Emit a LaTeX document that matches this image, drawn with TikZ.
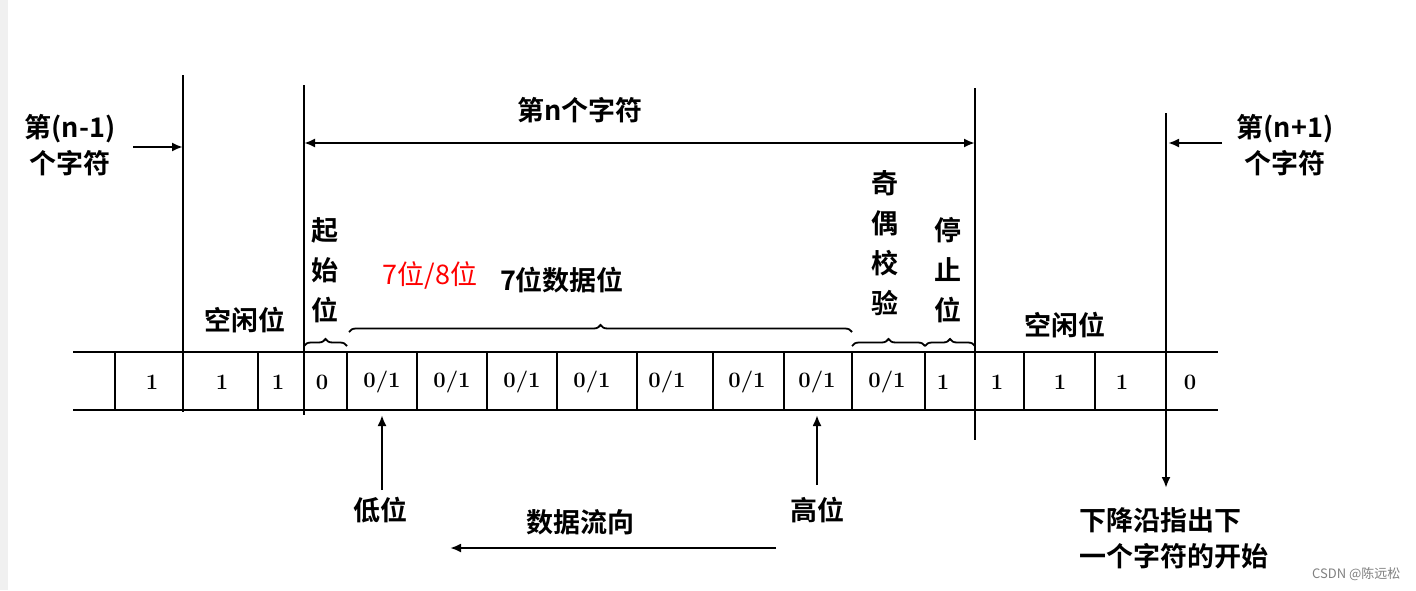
\documentclass[tikz,border=0pt]{standalone}
\usepackage{fontspec}
\newfontfamily\cjk{Noto Sans CJK SC}[BoldFont={Noto Sans CJK SC Bold}]
\usetikzlibrary{arrows.meta,decorations.pathreplacing}
\begin{document}
\begin{tikzpicture}[x=1pt,y=-1pt,
  lab/.style={font=\cjk\bfseries\fontsize{27}{36}\selectfont},
  vlab/.style={font=\cjk\bfseries\fontsize{27}{40}\selectfont,align=center,inner sep=0},
  bit/.style={font=\fontsize{22}{24}\selectfont\bfseries},
  ln/.style={line width=2.2pt},
  arr/.style={line width=2.2pt,-{Latex[length=11pt,width=9pt]}},
  br/.style={line width=1.8pt,decorate,decoration={brace,amplitude=7pt}}]
\useasboundingbox (0,0) rectangle (1416,590);
\fill[gray!12] (0,0) rectangle (8,590);
% band
\draw[ln] (73,352) -- (1218,352);
\draw[ln] (73,410) -- (1218,410);
\foreach \x in {115,258,347,417,487,557,637,713,784,852,925,1024,1095}
  \draw[ln] (\x,352) -- (\x,410);
% long lines
\draw[ln] (183,75) -- (183,412);
\draw[ln] (304,85) -- (304,415);
\draw[ln] (975,88) -- (975,440);
\coordinate (nx) at (1166,113);
\coordinate (ny) at (1166,488);
\draw[arr] (nx) -- (ny);
% bits
\foreach \x/\t in {152/1,222/1,278/1,322/0,382/0\slash1,452/0\slash1,522/0\slash1,592/0\slash1,667/0\slash1,747/0\slash1,817/0\slash1,887/0\slash1,943/1,997/1,1060/1,1122/1,1190/0}
  \node[bit] at (\x,382) {\t};
% top
\node[lab] (tn) at (580,110) {第n个字符};
\coordinate (a1) at (304,143); \coordinate (a2) at (975,143);
\draw[line width=2.2pt,{Latex[length=11pt,width=9pt]}-{Latex[length=11pt,width=9pt]}] (a1) -- (a2);
\node[lab,align=center] (pl) at (70,145) {第(n-1)\\个字符};
\coordinate (pl1) at (133,147); \coordinate (pl2) at (183,147);
\draw[arr] (pl1) -- (pl2);
\node[lab,align=center] (nl) at (1285,145) {第(n+1)\\个字符};
\coordinate (nl1) at (1222,143); \coordinate (nl2) at (1168,143);
\draw[arr] (nl1) -- (nl2);
% vertical labels
\node[vlab] at (325,270) {起\\始\\位};
\node[vlab] at (885,243) {奇\\偶\\校\\验};
\node[vlab] at (948,270) {停\\止\\位};
\node[lab] at (245,320) {空闲位};
\node[lab] at (1065,325) {空闲位};
\node[font=\cjk\fontsize{27}{30}\selectfont,text=red] at (430,275) {7位/8位};
\node[lab] at (562,280) {7位数据位};
% braces
\draw[br] (304,346) -- (347,346);
\draw[br] (349,332) -- (852,332);
\draw[br] (852,346) -- (925,346);
\draw[br] (925,346) -- (975,346);
% bottom
\node[lab] (lo) at (380,510) {低位};
\node[lab] (hi) at (817,510) {高位};
\coordinate (lo1) at (382,490); \coordinate (lo2) at (382,415);
\coordinate (hi1) at (817,485); \coordinate (hi2) at (817,415);
\draw[arr] (lo1) -- (lo2);
\draw[arr] (hi1) -- (hi2);
\node[lab] (fl) at (580,522) {数据流向};
\coordinate (f1) at (776,548); \coordinate (f2) at (450,548);
\draw[arr] (f1) -- (f2);
\node[lab,anchor=west] at (1076,520) {下降沿指出下};
\node[lab,anchor=west] at (1076,556) {一个字符的开始};
\node[font=\cjk\fontsize{13}{14}\selectfont,text=gray,anchor=east] at (1404,574) {CSDN @陈远松};
\end{tikzpicture}
\end{document}
